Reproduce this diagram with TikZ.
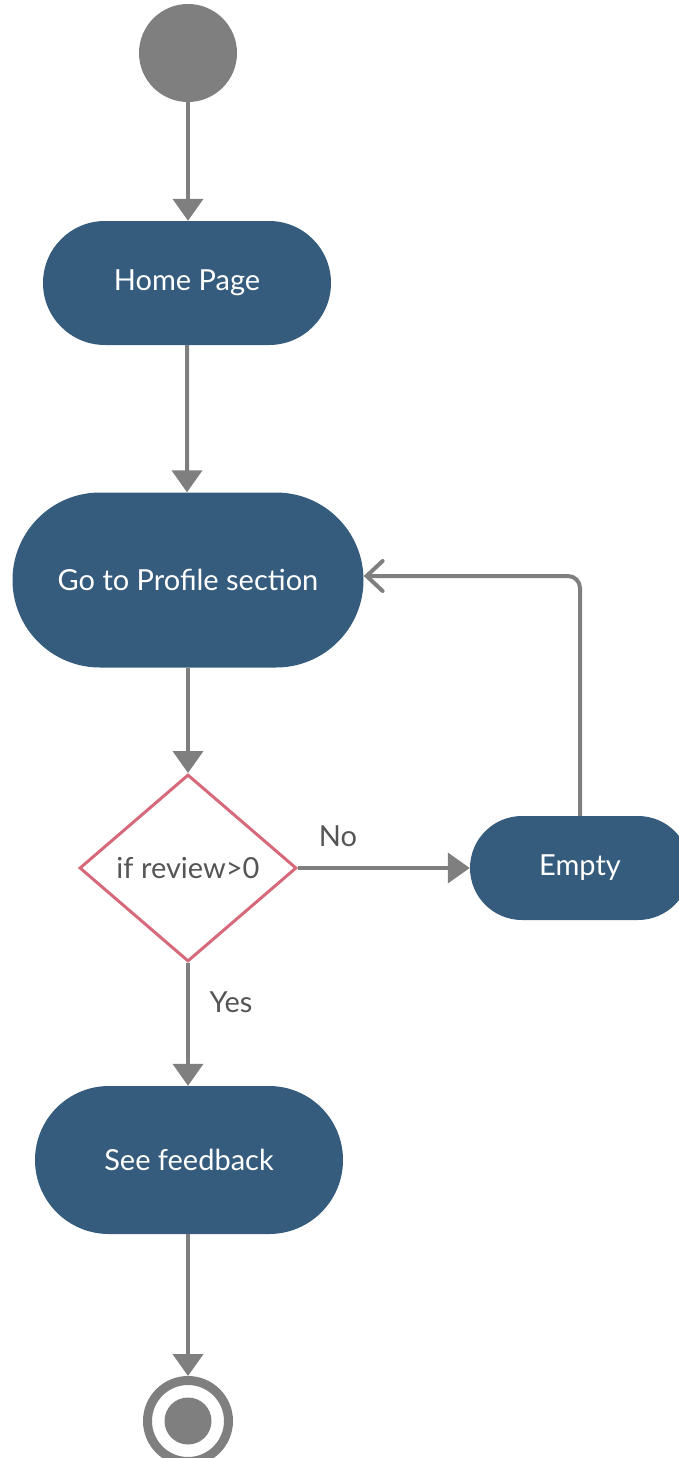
\documentclass[tikz,border=0pt]{standalone}
\usepackage{fontspec}
\setmainfont{Lato}
\usetikzlibrary{arrows.meta,shapes.geometric,shapes.misc}
\definecolor{nodeblue}{HTML}{355B7D}
\definecolor{lgray}{HTML}{7F7F7F}
\definecolor{dpink}{HTML}{D6697A}
\definecolor{tgray}{HTML}{555555}
\tikzset{
  x=1pt, y=1pt,
  act/.style={rounded rectangle, fill=nodeblue, text=white, inner sep=0pt,
    font=\fontsize{29}{34}\selectfont},
  flow/.style={draw=lgray, line width=4pt, -{Triangle[width=30pt,length=22pt]}},
  back/.style={draw=lgray, line width=4pt, rounded corners=12pt,
    -{Straight Barb[width=30pt,length=16pt,line cap=round]}},
  lbl/.style={text=tgray, font=\fontsize{29}{34}\selectfont},
}
\begin{document}
\begin{tikzpicture}
\useasboundingbox (0,0) rectangle (679,-1458);
\node[circle, fill=lgray, minimum size=98pt, inner sep=0pt] (start) at (188,-53) {};
\node[act, minimum width=288pt, minimum height=124pt] (home) at (187,-283) {Home Page};
\node[act, minimum width=351pt, minimum height=175pt] (profile) at (188,-580) {Go to Profile section};
\node[diamond, draw=dpink, line width=3pt, fill=white, inner sep=0pt,
  minimum width=217pt, minimum height=187pt, text=tgray,
  font=\fontsize{29}{34}\selectfont] (dec) at (188,-868) {if review>0};
\node[act, minimum width=220pt, minimum height=104pt] (empty) at (580,-868) {Empty};
\node[act, minimum width=308pt, minimum height=148pt] (feed) at (189,-1160) {See feedback};
\node[circle, draw=lgray, line width=9pt, fill=white, minimum size=81pt, inner sep=0pt] (end) at (188,-1421) {};
\node[circle, fill=lgray, minimum size=47pt, inner sep=0pt] (endin) at (end.center) {};
\draw[flow] (start) -- (start |- home.north);
\draw[flow] (home) -- (home |- profile.north);
\draw[flow] (profile) -- (dec.north);
\draw[flow] (dec.east) -- (empty.west);
\draw[flow] (dec.south) -- (dec.south |- feed.north);
\draw[flow] (feed.south -| end) -- (end.north);
\draw[back] (empty.north) |- ([yshift=4pt]profile.east);
\node[lbl] (no) at (338,-836) {No};
\node[lbl] (yes) at (231,-1002) {Yes};
\end{tikzpicture}
\end{document}
